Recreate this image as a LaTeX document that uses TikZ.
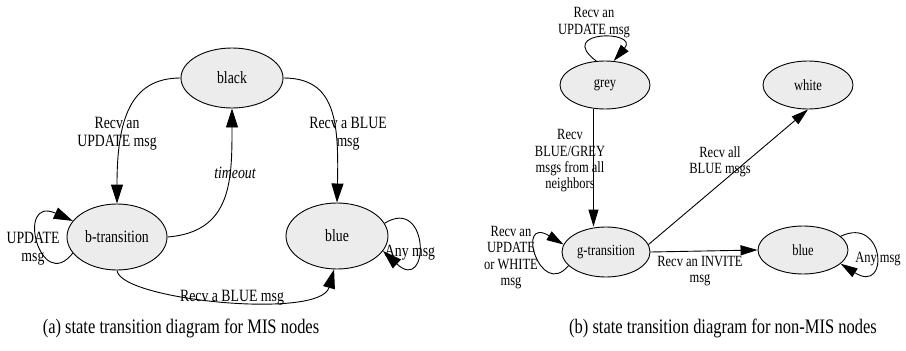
\documentclass[tikz,border=0pt]{standalone}
\usepackage{fontspec}
\setmainfont[FakeStretch=0.8]{Liberation Serif}
\usetikzlibrary{shapes.geometric,arrows.meta}
\begin{document}
\begin{tikzpicture}[x=1pt,y=-1pt,
  stL/.style={ellipse,draw,fill=gray!15,line width=0.9pt,inner sep=0pt,font=\fontsize{17.25}{18}\selectfont},
  stR/.style={ellipse,draw,fill=gray!15,line width=0.9pt,inner sep=0pt,font=\fontsize{15.6}{16}\selectfont},
  lblL/.style={align=center,inner sep=0pt,font=\fontsize{17.25}{18.3}\selectfont},
  lblR/.style={align=center,inner sep=0pt,font=\fontsize{15.6}{16.3}\selectfont},
  arrL/.style={line width=0.9pt,-{Triangle[length=19pt,width=12pt]}},
  arrR/.style={line width=0.9pt,-{Triangle[length=17pt,width=10pt]}},
  captext/.style={inner sep=0pt,font=\fontsize{20.6}{22}\selectfont}
]
\useasboundingbox (0,0) rectangle (906,351);

% ---------- (a) ----------
\node[stL,minimum width=102pt,minimum height=60pt] (bk) at (232,78) {black};
\node[stL,minimum width=100pt,minimum height=66pt] (bt) at (117,237) {b-transition};
\node[stL,minimum width=102pt,minimum height=66pt] (bl) at (337,236) {blue};

\draw[arrL] (bk.west) .. controls (130,78) and (117,120) .. (bt.north);
\node[lblL] (l1) at (117,133.5) {Recv an\\UPDATE msg};

\draw[arrL] (bt.east) .. controls (232,232) and (232,180) .. (bk.south);
\node[lblL,font=\fontsize{17.25}{18.3}\selectfont\itshape] (l2) at (235,173) {timeout};

\draw[arrL] (bk.east) .. controls (335,78) and (339,120) .. (bl.north);
\node[lblL] (l3) at (348,134) {Recv a BLUE\\msg};

\draw[arrL] (bt.south) .. controls (120,300) and (320,320) .. (bl.-95);
\node[lblL] (l4) at (232,298) {Recv a BLUE msg};

\draw[arrL] (bt.200) .. controls (40,295) and (15,195) .. (bt.160);
\node[lblL] (l5) at (33,249) {UPDATE\\msg};

\draw[arrL] (bl.15) .. controls (430,195) and (430,295) .. (bl.-18);
\node[lblL] (l6) at (410,253) {Any msg};

\node[captext] (capa) at (181,328) {(a) state transition diagram for MIS nodes};

% ---------- (b) ----------
\node[stR,minimum width=90pt,minimum height=48pt] (gr) at (605,85) {grey};
\node[stR,minimum width=90pt,minimum height=48pt] (wh) at (808,85) {white};
\node[stR,minimum width=88pt,minimum height=50pt] (gt) at (606,252) {g-transition};
\node[stR,minimum width=90pt,minimum height=48pt] (br) at (803,250) {blue};

\draw[arrR] (gr.110) .. controls (555,30) and (640,30) .. (gr.70);
\node[lblR] (m1) at (594,22.5) {Recv an\\UPDATE msg};

\draw[arrR] (gr.244) -- (gr.244 |- gt.north);
\node[lblR] (m2) at (570,161) {Recv\\BLUE/GREY\\msgs from all\\neighbors};

\draw[arrR] (gt.10) -- (wh.south);
\node[lblR] (m3) at (720,162) {Recv all\\BLUE msgs};

\draw[arrR] (gt.east) -- (br.west);
\node[lblR] (m4) at (700,271) {Recv an INVITE\\msg};

\draw[arrR] (gt.200) .. controls (540,300) and (515,215) .. (gt.170);
\node[lblR] (m5) at (511,257.5) {Recv an\\UPDATE\\or WHITE\\msg};

\draw[arrR] (br.20) .. controls (885,215) and (890,295) .. (br.-20);
\node[lblR] (m6) at (878,259) {Any msg};

\node[captext] (capb) at (723,328) {(b) state transition diagram for non-MIS nodes};
\end{tikzpicture}
\end{document}
